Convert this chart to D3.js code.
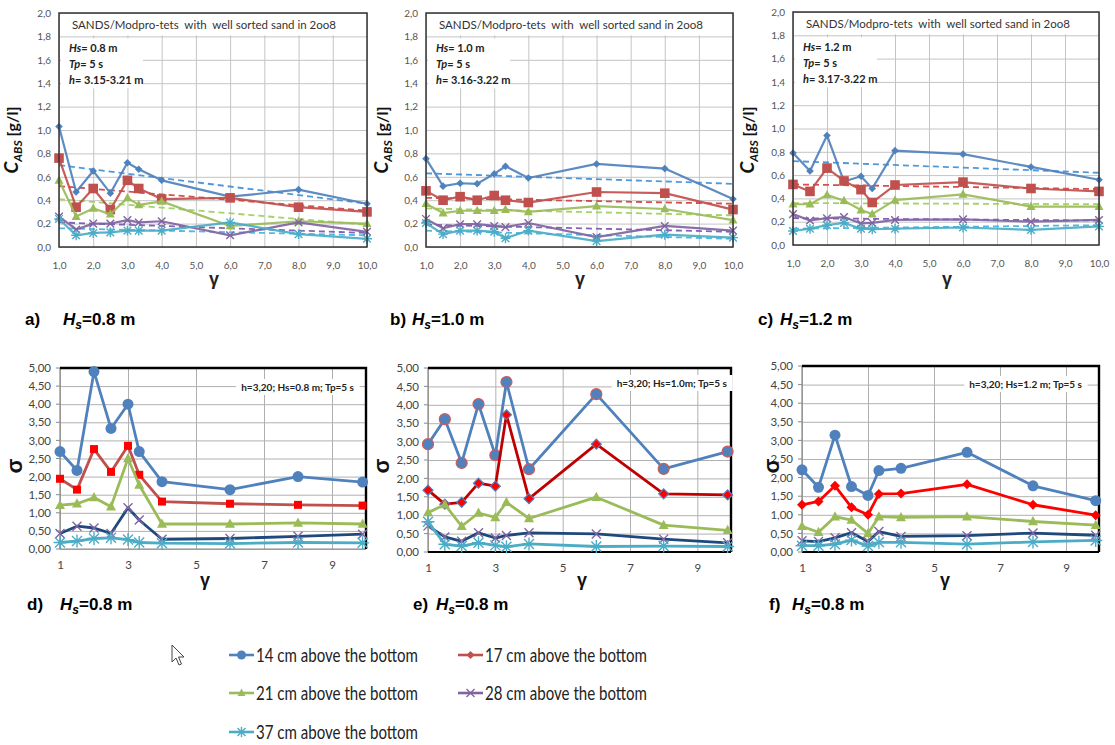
<!DOCTYPE html>
<html>
<head>
<meta charset="utf-8">
<script src="https://cdn.jsdelivr.net/npm/d3@7"></script>
<style>
  body { margin: 0; background: #fff; }
  svg { display: block; }
</style>
</head>
<body>
<svg id="chart" width="1115" height="745"></svg>
<script>
// ---------- data ----------
const gammaTop = [1, 1.5, 2, 2.5, 3, 3.33, 4, 6, 8, 10];
const gammaBottom = [1, 1.5, 2, 2.5, 3, 3.33, 4, 6, 8, 9.9];

const seriesNames = [
  "14 cm above the bottom",
  "17 cm above the bottom",
  "21 cm above the bottom",
  "28 cm above the bottom",
  "37 cm above the bottom"
];

const yTicksTop = [0, 0.2, 0.4, 0.6, 0.8, 1.0, 1.2, 1.4, 1.6, 1.8, 2.0];
const xTicksTop = [1, 2, 3, 4, 5, 6, 7, 8, 9, 10];
const yTicksBottom = [0, 0.5, 1, 1.5, 2, 2.5, 3, 3.5, 4, 4.5, 5];
const xTicksBottom = [1, 3, 5, 7, 9];

// C_ABS [g/l] per height above the bottom (rows: 14, 17, 21, 28, 37 cm)
const cAbsHs08 = [
  [1.03, 0.47, 0.65, 0.46, 0.72, 0.665, 0.57, 0.43, 0.49, 0.37],
  [0.76, 0.34, 0.50, 0.32, 0.57, 0.50, 0.41, 0.42, 0.34, 0.30],
  [0.57, 0.26, 0.33, 0.28, 0.42, 0.36, 0.39, 0.18, 0.22, 0.20],
  [0.26, 0.15, 0.20, 0.20, 0.23, 0.21, 0.22, 0.10, 0.21, 0.13],
  [0.24, 0.10, 0.12, 0.125, 0.14, 0.14, 0.14, 0.21, 0.11, 0.07]
];
const cAbsHs10 = [
  [0.755, 0.52, 0.545, 0.54, 0.625, 0.69, 0.59, 0.71, 0.67, 0.41],
  [0.48, 0.40, 0.43, 0.40, 0.44, 0.40, 0.38, 0.47, 0.46, 0.32],
  [0.37, 0.29, 0.31, 0.31, 0.31, 0.32, 0.30, 0.35, 0.325, 0.23],
  [0.24, 0.16, 0.195, 0.195, 0.18, 0.17, 0.205, 0.085, 0.18, 0.14],
  [0.205, 0.11, 0.14, 0.14, 0.13, 0.075, 0.14, 0.05, 0.105, 0.08]
];
const cAbsHs12 = [
  [0.79, 0.635, 0.94, 0.545, 0.59, 0.485, 0.81, 0.78, 0.67, 0.56],
  [0.52, 0.46, 0.66, 0.55, 0.475, 0.365, 0.515, 0.54, 0.485, 0.46],
  [0.35, 0.35, 0.43, 0.38, 0.30, 0.265, 0.385, 0.435, 0.33, 0.33],
  [0.265, 0.21, 0.23, 0.24, 0.185, 0.19, 0.215, 0.22, 0.20, 0.215],
  [0.12, 0.14, 0.17, 0.19, 0.14, 0.135, 0.14, 0.15, 0.13, 0.16]
];

// linear trend lines: value at gamma = 1 and at gamma = 10
const trendHs08 = [[0.70, 0.37], [0.52, 0.31], [0.41, 0.19], [0.21, 0.12], [0.16, 0.10]];
const trendHs10 = [[0.63, 0.54], [0.42, 0.37], [0.33, 0.27], [0.19, 0.13], [0.14, 0.07]];
const trendHs12 = [[0.72, 0.62], [0.52, 0.48], [0.36, 0.35], [0.23, 0.21], [0.14, 0.17]];

// sigma per height above the bottom (rows: 14, 17, 21, 28, 37 cm)
const sigmaHs08 = [
  [2.69, 2.17, 4.90, 3.33, 4.00, 2.69, 1.86, 1.64, 2.00, 1.85],
  [1.94, 1.64, 2.76, 2.13, 2.85, 2.05, 1.31, 1.25, 1.22, 1.20],
  [1.21, 1.25, 1.42, 1.17, 2.50, 1.77, 0.69, 0.69, 0.72, 0.69],
  [0.43, 0.63, 0.58, 0.43, 1.14, 0.80, 0.27, 0.29, 0.35, 0.41],
  [0.18, 0.22, 0.29, 0.31, 0.26, 0.18, 0.16, 0.15, 0.18, 0.17]
];
const sigmaHs10 = [
  [2.93, 3.61, 2.42, 4.02, 2.63, 4.62, 2.25, 4.29, 2.26, 2.73],
  [1.68, 1.30, 1.35, 1.87, 1.79, 3.73, 1.45, 2.93, 1.58, 1.55],
  [1.07, 1.29, 0.70, 1.06, 0.94, 1.35, 0.91, 1.49, 0.73, 0.59],
  [0.71, 0.41, 0.29, 0.52, 0.38, 0.45, 0.52, 0.49, 0.35, 0.25],
  [0.82, 0.21, 0.16, 0.25, 0.18, 0.14, 0.22, 0.15, 0.16, 0.15]
];
const sigmaHs12 = [
  [2.21, 1.74, 3.14, 1.76, 1.52, 2.19, 2.25, 2.68, 1.78, 1.38],
  [1.27, 1.36, 1.78, 1.20, 1.00, 1.56, 1.57, 1.82, 1.27, 0.99],
  [0.69, 0.53, 0.95, 0.86, 0.50, 0.95, 0.93, 0.95, 0.82, 0.72],
  [0.30, 0.28, 0.38, 0.52, 0.28, 0.55, 0.42, 0.44, 0.51, 0.45],
  [0.17, 0.17, 0.21, 0.32, 0.16, 0.26, 0.26, 0.21, 0.27, 0.31]
];

// ---------- styling ----------
const FONT = "Lato, 'Open Sans', sans-serif";
const ARIAL = "'Liberation Sans', Arial, sans-serif";
const lineColors = ["#4f81bd", "#c0504d", "#9bbb59", "#8064a2", "#4bacc6"];
const trendColors = ["#3d8fd8", "#d23c3c", "#9bcf55", "#7a52b0", "#3fb3e0"];
const markerShapes = ["diamond", "square", "triangle", "x", "star"];

const locale = d3.formatLocale({ decimal: ",", thousands: ".", grouping: [3], currency: ["", ""] });
const fmt1 = locale.format(".1f");
const fmt2 = locale.format(".2f");

const svg = d3.select("#chart");

function markerPath(shape, r) {
  switch (shape) {
    case "circle": return d3.symbol(d3.symbolCircle, Math.PI * r * r)();
    case "square": return `M${-r},${-r}H${r}V${r}H${-r}Z`;
    case "diamond": return `M0,${-r}L${r},0L0,${r}L${-r},0Z`;
    case "triangle": return `M0,${-r * 1.1}L${r},${r * 0.75}L${-r},${r * 0.75}Z`;
    case "x": return `M${-r},${-r}L${r},${r}M${-r},${r}L${r},${-r}`;
    case "star": return `M${-r},${-r}L${r},${r}M${-r},${r}L${r},${-r}M0,${-r * 1.3}L0,${r * 1.3}M${-r * 1.3},0L${r * 1.3},0`;
  }
}

function drawMarker(g, shape, cx, cy, r, fill, stroke, sw) {
  const open = shape === "x" || shape === "star";
  g.append("path")
    .attr("d", markerPath(shape, r))
    .attr("transform", `translate(${cx},${cy})`)
    .attr("fill", open ? "none" : fill)
    .attr("stroke", open ? fill : (stroke || "none"))
    .attr("stroke-width", open ? 1.4 : (sw || 0));
}

// ---------- top row: C_ABS ----------
const topPanels = [
  { left: 59, right: 367, top: 13, bottom: 247, yl: 17, gx: 214,
    values: cAbsHs08, trends: trendHs08, hs: "0.8 m", h: "3.15-3.21 m",
    cap: "a)", capX: 25, hX: 63, hsCap: "=0.8 m" },
  { left: 426, right: 733, top: 13, bottom: 247, yl: 387, gx: 580,
    values: cAbsHs10, trends: trendHs10, hs: "1.0 m", h: "3.16-3.22 m",
    cap: "b)", capX: 390, hX: 412, hsCap: "=1.0 m" },
  { left: 793, right: 1099, top: 12, bottom: 245, yl: 753, gx: 947,
    values: cAbsHs12, trends: trendHs12, hs: "1.2 m", h: "3.17-3.22 m",
    cap: "c)", capX: 758, hX: 780, hsCap: "=1.2 m" }
];

topPanels.forEach(p => {
  const x = d3.scaleLinear().domain([1, 10]).range([p.left, p.right]);
  const y = d3.scaleLinear().domain([0, 2]).range([p.bottom, p.top]);
  const g = svg.append("g");
  const w = p.right - p.left, h = p.bottom - p.top;

  // grid + tick labels
  const ya = g.append("g").attr("transform", `translate(${p.left},0)`)
    .call(d3.axisLeft(y).tickValues(yTicksTop).tickFormat(fmt1).tickSizeInner(-w).tickSizeOuter(0).tickPadding(8));
  const xa = g.append("g").attr("transform", `translate(0,${p.bottom})`)
    .call(d3.axisBottom(x).tickValues(xTicksTop).tickFormat(fmt1).tickSizeInner(-h).tickSizeOuter(0).tickPadding(15));
  [ya, xa].forEach(a => {
    a.select(".domain").remove();
    a.selectAll("line").attr("stroke", "#c4c4c4").attr("stroke-width", 1);
    a.selectAll("text").attr("fill", "#555").attr("font-family", FONT).attr("font-size", 10);
  });

  // info boxes
  g.append("rect").attr("x", p.left + 2).attr("y", p.top + 1).attr("width", w - 4).attr("height", y(1.8) - p.top - 2).attr("fill", "#fff");
  g.append("text").attr("x", p.left + 13).attr("y", p.top + 16)
    .attr("font-family", FONT).attr("font-size", 11.5).attr("fill", "#333")
    .attr("xml:space", "preserve")
    .text("SANDS/Modpro-tets  with  well sorted sand in 2oo8");
  g.append("rect").attr("x", p.left + 2).attr("y", y(1.8) + 2).attr("width", 82).attr("height", 50).attr("fill", "#fff");
  const info = [["Hs", "= " + p.hs], ["Tp", "= 5 s"], ["h", "= " + p.h]];
  info.forEach((d, i) => {
    const t = g.append("text").attr("x", p.left + 10).attr("y", p.top + 39 + i * 16)
      .attr("font-family", FONT).attr("font-size", 11).attr("font-weight", "bold").attr("fill", "#222");
    t.append("tspan").attr("font-style", "italic").text(d[0]);
    t.append("tspan").text(d[1]);
  });

  // trend lines
  p.trends.forEach((tr, i) => {
    g.append("line")
      .attr("x1", x(1)).attr("y1", y(tr[0])).attr("x2", x(10)).attr("y2", y(tr[1]))
      .attr("stroke", trendColors[i]).attr("stroke-width", 1.8).attr("stroke-dasharray", "6,4").attr("opacity", 0.9);
  });

  // series
  const line = d3.line().x((d, j) => x(gammaTop[j])).y(d => y(d));
  p.values.forEach((vals, i) => {
    g.append("path").datum(vals).attr("d", line)
      .attr("fill", "none").attr("stroke", lineColors[i]).attr("stroke-width", 2.2).attr("stroke-linejoin", "round").attr("opacity", 0.92);
    const r = [3.8, 4.8, 4.5, 3.8, 3.8][i];
    vals.forEach((v, j) => drawMarker(g, markerShapes[i], x(gammaTop[j]), y(v), r, lineColors[i]));
  });

  // frame
  g.append("rect").attr("x", p.left).attr("y", p.top).attr("width", w).attr("height", h)
    .attr("fill", "none").attr("stroke", "#333").attr("stroke-width", 1.5);

  // axis titles
  const yt = g.append("text").attr("transform", `translate(${p.yl + 1},140) rotate(-90)`)
    .attr("text-anchor", "middle").attr("font-family", FONT).attr("font-weight", "bold").attr("fill", "#111");
  yt.append("tspan").attr("font-style", "italic").attr("font-size", 19).text("C");
  yt.append("tspan").attr("font-style", "italic").attr("font-size", 12).attr("dy", 4).text("ABS");
  yt.append("tspan").attr("font-size", 16).attr("dy", -4).text(" [g/l]");
  g.append("text").attr("x", p.gx).attr("y", 285).attr("text-anchor", "middle")
    .attr("font-family", ARIAL).attr("font-weight", "bold").attr("font-size", 18).attr("fill", "#222").text("γ");

  // caption
  const c = g.append("text").attr("y", 325).attr("font-family", ARIAL).attr("font-weight", "bold").attr("font-size", 17).attr("fill", "#000");
  c.append("tspan").attr("x", p.capX).text(p.cap);
  c.append("tspan").attr("x", p.hX).attr("font-style", "italic").text("H");
  c.append("tspan").attr("font-style", "italic").attr("font-size", 12).attr("dy", 4).text("s");
  c.append("tspan").attr("dy", -4).text(p.hsCap);
});

// ---------- bottom row: sigma ----------
const bottomPanels = [
  { left: 60, right: 366, top: 368, bottom: 549, yl: 16, gx: 205, bottomBlack: false,
    values: sigmaHs08, note: "h=3,20; Hs=0.8 m; Tp=5 s", noteRight: 354, noteY: 387,
    cap: "d)", capX: 27, hX: 60, style: "d" },
  { left: 428, right: 731, top: 368, bottom: 552, yl: 383, gx: 582, bottomBlack: true,
    values: sigmaHs10, note: "h=3,20; Hs=1.0m; Tp=5 s", noteRight: 727, noteY: 383,
    cap: "e)", capX: 413, hX: 436, style: "e" },
  { left: 802, right: 1099, top: 366, bottom: 552, yl: 773, gx: 945, bottomBlack: true,
    values: sigmaHs12, note: "h=3,20; Hs=1.2 m; Tp=5 s", noteRight: 1082, noteY: 384,
    cap: "f)", capX: 769, hX: 792, style: "f" }
];

const bottomStyles = {
  d: { line: ["#4f81bd", "#c0504d", "#9bbb59", "#1f497d", "#4bacc6"],
       fill: ["#4f81bd", "#ff0000", "#9bbb59", "#8064a2", "#4bacc6"],
       stroke: [null, null, null, null, null],
       shape: ["circle", "square", "triangle", "x", "star"] },
  e: { line: ["#4f81bd", "#c00000", "#9bbb59", "#1f497d", "#4bacc6"],
       fill: ["#4f81bd", "#ff0000", "#9bbb59", "#8064a2", "#4bacc6"],
       stroke: ["#d05a5a", "#4f81bd", null, null, null],
       shape: ["circle", "diamond", "triangle", "x", "star"] },
  f: { line: ["#4f81bd", "#ff0000", "#9bbb59", "#1f497d", "#4bacc6"],
       fill: ["#4f81bd", "#ff0000", "#9bbb59", "#8064a2", "#4bacc6"],
       stroke: [null, null, null, null, null],
       shape: ["circle", "diamond", "triangle", "x", "star"] }
};

bottomPanels.forEach(p => {
  const st = bottomStyles[p.style];
  const x = d3.scaleLinear().domain([1, 10]).range([p.left, p.right]);
  const y = d3.scaleLinear().domain([0, 5]).range([p.bottom, p.top]);
  const g = svg.append("g");
  const w = p.right - p.left, h = p.bottom - p.top;

  const ya = g.append("g").attr("transform", `translate(${p.left},0)`)
    .call(d3.axisLeft(y).tickValues(yTicksBottom).tickFormat(fmt2).tickSizeInner(-w).tickSizeOuter(0).tickPadding(9));
  const xa = g.append("g").attr("transform", `translate(0,${p.bottom})`)
    .call(d3.axisBottom(x).tickValues(xTicksBottom).tickFormat(d3.format("d")).tickSizeInner(-h).tickSizeOuter(0).tickPadding(12));
  [ya, xa].forEach(a => {
    a.select(".domain").remove();
    a.selectAll("line").attr("stroke", "#b0b0b0").attr("stroke-width", 1);
    a.selectAll("text").attr("fill", "#444").attr("font-family", FONT).attr("font-size", 11.5);
  });
  // small outer ticks on the value axis
  g.append("g").selectAll("line").data(yTicksBottom).join("line")
    .attr("x1", p.left - 4).attr("x2", p.left).attr("y1", d => y(d)).attr("y2", d => y(d))
    .attr("stroke", "#888");

  // frame: grey left/bottom axis, black top/right
  g.append("line").attr("x1", p.left).attr("x2", p.left).attr("y1", p.top).attr("y2", p.bottom).attr("stroke", "#888").attr("stroke-width", 1.2);
  g.append("line").attr("x1", p.left).attr("x2", p.right).attr("y1", p.bottom).attr("y2", p.bottom)
    .attr("stroke", p.bottomBlack ? "#000" : "#888").attr("stroke-width", p.bottomBlack ? 2.2 : 1.2);
  g.append("path").attr("d", `M${p.left},${p.top}H${p.right}V${p.bottom}`)
    .attr("fill", "none").attr("stroke", "#000").attr("stroke-width", 2.4);

  // note on a white label background
  const noteBg = g.append("rect").attr("fill", "#fff");
  const note = g.append("text").attr("x", p.noteRight).attr("y", p.noteY + 4).attr("text-anchor", "end")
    .attr("font-family", FONT).attr("font-weight", "bold").attr("font-size", 10).attr("fill", "#222").text(p.note);
  const bb = note.node().getBBox();
  noteBg.attr("x", bb.x - 5).attr("y", bb.y - 2).attr("width", bb.width + 10).attr("height", bb.height + 4);

  // series
  const line = d3.line().x((d, j) => x(gammaBottom[j])).y(d => y(d));
  p.values.forEach((vals, i) => {
    g.append("path").datum(vals).attr("d", line)
      .attr("fill", "none").attr("stroke", st.line[i]).attr("stroke-width", 2.8).attr("stroke-linejoin", "round");
    const r = [5.5, 4, 5, 4.5, 5][i];
    vals.forEach((v, j) => drawMarker(g, st.shape[i], x(gammaBottom[j]), y(v), st.shape[i] === "diamond" ? 5 : r,
      st.fill[i], st.stroke[i], st.stroke[i] ? 1.2 : 0));
  });

  // axis titles
  g.append("text").attr("transform", `translate(${p.yl + 6},466) rotate(-90)`).attr("text-anchor", "middle")
    .attr("font-family", ARIAL).attr("font-weight", "bold").attr("font-size", 22).attr("fill", "#111").text("σ");
  g.append("text").attr("x", p.gx).attr("y", 586).attr("text-anchor", "middle")
    .attr("font-family", ARIAL).attr("font-weight", "bold").attr("font-size", 18).attr("fill", "#111").text("γ");

  // caption
  const c = g.append("text").attr("y", 610).attr("font-family", ARIAL).attr("font-weight", "bold").attr("font-size", 17).attr("fill", "#000");
  c.append("tspan").attr("x", p.capX).text(p.cap);
  c.append("tspan").attr("x", p.hX).attr("font-style", "italic").text("H");
  c.append("tspan").attr("font-style", "italic").attr("font-size", 12).attr("dy", 4).text("s");
  c.append("tspan").attr("dy", -4).text("=0.8 m");
});

// ---------- legend ----------
const legendShapes = ["circle", "diamond", "triangle", "x", "star"];
const legendFill = ["#4f81bd", "#c0504d", "#9bbb59", "#8064a2", "#4bacc6"];
const legendPos = [[229, 655], [458, 655], [229, 693], [458, 693], [229, 732]];
const lg = svg.append("g");
seriesNames.forEach((name, i) => {
  const [lx, ly] = legendPos[i];
  lg.append("line").attr("x1", lx).attr("x2", lx + 25).attr("y1", ly).attr("y2", ly)
    .attr("stroke", legendFill[i]).attr("stroke-width", 2.6);
  drawMarker(lg, legendShapes[i], lx + 12.5, ly, legendShapes[i] === "circle" ? 4.5 : 4, legendFill[i]);
  lg.append("text").attr("x", lx + 27).attr("y", ly + 6.5)
    .attr("font-family", FONT).attr("font-size", 19).attr("fill", "#222")
    .attr("textLength", 162).attr("lengthAdjust", "spacingAndGlyphs").text(name);
});

// mouse pointer
svg.append("path")
  .attr("d", "M0,0 L0,17 L4,13 L7,20 L9.5,19 L6.5,12 L12,12 Z")
  .attr("transform", "translate(172,645)")
  .attr("fill", "#fff").attr("stroke", "#444").attr("stroke-width", 1);
</script>
</body>
</html>
